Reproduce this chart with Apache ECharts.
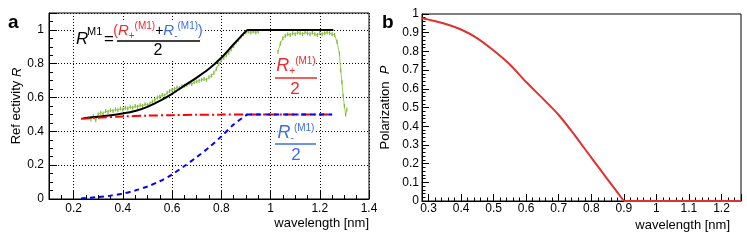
<!DOCTYPE html>
<html><head><meta charset="utf-8">
<script src="https://cdn.jsdelivr.net/npm/echarts@6/dist/echarts.min.js"></script>
<style>html,body{margin:0;padding:0;background:#fff}#c{width:747px;height:245px}</style>
</head><body><div id="c"></div>
<script>
// ---- Panel a data ----
const redX   = [0.23, 0.30, 0.40, 0.50, 0.60, 0.70, 0.80, 0.90, 1.00, 1.10, 1.20, 1.25];
const redY   = [0.475, 0.481, 0.488, 0.493, 0.496, 0.498, 0.499, 0.500, 0.500, 0.500, 0.500, 0.500];
const blueX  = [0.23, 0.30, 0.35, 0.40, 0.45, 0.50, 0.55, 0.60, 0.65, 0.70, 0.75, 0.80, 0.85, 0.905];
const blueY  = [0.003, 0.012, 0.020, 0.032, 0.050, 0.074, 0.105, 0.145, 0.195, 0.248, 0.305, 0.370, 0.440, 0.500];
const blueFlatX = [0.905, 1.25];
const blueFlatY = [0.500, 0.500];
const blackX = [0.24, 0.30, 0.35, 0.40, 0.45, 0.50, 0.55, 0.60, 0.65, 0.70, 0.75, 0.80, 0.85, 0.905];
const blackY = [0.478, 0.487, 0.495, 0.505, 0.520, 0.545, 0.580, 0.622, 0.670, 0.718, 0.770, 0.835, 0.915, 1.000];
const blackFlatX = [0.905, 1.255];
const blackFlatY = [1.000, 1.000];
const greenX1 = [0.27,0.28,0.29,0.30,0.31,0.32,0.33,0.34,0.35,0.36,0.37,0.38,0.39,0.40,0.41,0.42,0.43,0.44,0.45,0.46,0.47,0.48,0.49,0.50,0.51,0.52,0.53,0.54,0.55,0.56,0.57,0.58,0.59,0.60,0.61,0.62,0.63,0.64,0.65,0.66,0.67,0.68,0.69,0.70,0.71,0.72,0.73,0.74,0.75,0.76,0.77,0.78,0.79,0.80,0.81,0.82,0.83,0.84,0.85,0.86,0.87,0.88,0.89,0.90,0.91,0.92,0.93,0.94,0.95];
const greenY1 = [0.470,0.490,0.465,0.500,0.510,0.505,0.520,0.515,0.525,0.520,0.530,0.525,0.535,0.530,0.540,0.535,0.545,0.540,0.550,0.545,0.555,0.550,0.560,0.555,0.565,0.575,0.585,0.600,0.605,0.615,0.612,0.628,0.638,0.645,0.650,0.660,0.655,0.665,0.670,0.675,0.685,0.680,0.690,0.695,0.700,0.705,0.710,0.705,0.720,0.730,0.745,0.770,0.800,0.820,0.835,0.850,0.865,0.885,0.905,0.925,0.940,0.960,0.975,0.985,0.990,0.985,0.990,0.985,0.990];
const greenX2 = [1.03,1.04,1.05,1.06,1.07,1.08,1.09,1.10,1.11,1.12,1.13,1.14,1.15,1.16,1.17,1.18,1.19,1.20,1.21,1.22,1.23,1.24,1.25,1.26,1.27,1.28,1.285,1.29,1.295,1.30,1.305,1.31];
const greenY2 = [0.870,0.920,0.950,0.965,0.975,0.970,0.980,0.975,0.985,0.980,0.975,0.985,0.980,0.975,0.985,0.975,0.970,0.980,0.975,0.980,0.985,0.980,0.975,0.970,0.930,0.860,0.760,0.690,0.610,0.550,0.500,0.530];
// ---- Panel b data ----
const polX = [0.28, 0.30, 0.35, 0.40, 0.45, 0.50, 0.55, 0.60, 0.65, 0.70, 0.75, 0.80, 0.85, 0.90];
const polY = [0.977, 0.970, 0.948, 0.917, 0.870, 0.805, 0.730, 0.636, 0.550, 0.460, 0.350, 0.232, 0.116, 0.000];
const polFlatX = [0.90, 1.26];
const polFlatY = [0.000, 0.000];

const zip = (xs, ys) => xs.map((x, i) => [x, ys[i]]);
const FF = 'Liberation Sans, Arial, Helvetica, sans-serif';
const RED = '#ff0000', BLUE = '#0000ff', TRED = '#ee2a2a', TBLUE = '#3c6ee6', PRED = '#e03131';

const axisCommon = {
  axisLine: {lineStyle: {color: '#000', width: 1}},
  axisLabel: {color: '#000', fontSize: 12, fontFamily: FF},
};

const chart = echarts.init(document.getElementById('c'), null, {renderer: 'canvas'});
const txt = (x, y, text, font, fill, align) => ({
  type: 'text', z: 100,
  style: {x, y, text, font, fill: fill || '#000', align: align || 'left', verticalAlign: 'middle', textAlign: align || 'left', textVerticalAlign: 'middle'}
});
const richTxt = (x, y, text, rich, align) => ({
  type: 'text', z: 100,
  style: {x, y, text, rich, align: align || 'center', verticalAlign: 'middle', textAlign: align || 'center', textVerticalAlign: 'middle', backgroundColor: '#fff'}
});
const bar = (x1, x2, y, color) => ({
  type: 'line', z: 100, shape: {x1, y1: y, x2, y2: y}, style: {stroke: color, lineWidth: 1.5}
});
const R = (c, sz) => ({fontSize: sz, fontStyle: 'italic', fontFamily: FF, fill: c, color: c, lineHeight: 20});
const N = (c, sz) => ({fontSize: sz, fontFamily: FF, fill: c, color: c, lineHeight: 20});
const SUP = (c) => ({fontSize: 10, fontFamily: FF, fill: c, color: c, lineHeight: 20, verticalAlign: 'top'});
const SUB = (c) => ({fontSize: 10, fontFamily: FF, fill: c, color: c, lineHeight: 20, verticalAlign: 'bottom'});
const lineSeries = (xi, xs, ys, color, type, z, smooth) => ({
  type: 'line', xAxisIndex: xi, yAxisIndex: xi, data: zip(xs, ys), symbol: 'none', smooth: smooth ? 0.3 : false,
  clip: false, lineStyle: {color, width: 2, type: type || 'solid'}, z
});

chart.setOption({
  animation: false,
  backgroundColor: '#fff',
  grid: [
    {left: 49, right: 378, top: 13, bottom: 46, show: true, borderColor: '#000', borderWidth: 1, backgroundColor: 'transparent'},
    {left: 422, right: 6, top: 14, bottom: 44, show: true, borderColor: '#000', borderWidth: 1, backgroundColor: 'transparent'}
  ],
  xAxis: [
    Object.assign({}, axisCommon, {
      gridIndex: 0, type: 'value', min: 0.1, max: 1.4, splitNumber: 6,
      axisTick: {inside: true, length: 8, lineStyle: {color: '#000'}},
      minorTick: {show: true, splitNumber: 4, length: 4, lineStyle: {color: '#000'}},
      axisLabel: {color: '#000', fontSize: 12, fontFamily: FF, margin: 4, showMinLabel: false},
      splitLine: {show: true, lineStyle: {color: '#000', width: 1, type: [1, 2]}},
      name: 'wavelength [nm]', nameLocation: 'end', nameGap: 0,
      nameTextStyle: {color: '#000', fontSize: 13, fontFamily: FF, align: 'right', verticalAlign: 'top', padding: [18, 0, 0, 0]}
    }),
    Object.assign({}, axisCommon, {
      gridIndex: 1, type: 'value', min: 0.28, max: 1.26, splitNumber: 10,
      axisTick: {inside: true, length: 7, lineStyle: {color: '#000'}},
      minorTick: {show: true, splitNumber: 5, length: 3.5, lineStyle: {color: '#000'}},
      axisLabel: {color: '#000', fontSize: 12, fontFamily: FF, margin: 2, showMinLabel: false, showMaxLabel: false},
      splitLine: {show: false},
      name: 'wavelength [nm]', nameLocation: 'end', nameGap: 0,
      nameTextStyle: {color: '#000', fontSize: 13, fontFamily: FF, align: 'right', verticalAlign: 'top', padding: [18, 11, 0, 0]}
    })
  ],
  yAxis: [
    Object.assign({}, axisCommon, {
      gridIndex: 0, type: 'value', min: 0, max: 1.1, interval: 0.2,
      axisTick: {inside: true, length: 8, lineStyle: {color: '#000'}},
      minorTick: {show: true, splitNumber: 4, length: 4, lineStyle: {color: '#000'}},
      axisLabel: {color: '#000', fontSize: 12, fontFamily: FF, margin: 5, showMaxLabel: false},
      splitLine: {show: true, lineStyle: {color: '#000', width: 1, type: [1, 2]}},
      name: 'Ref ectivity {i|R}', nameLocation: 'middle', nameGap: 25, nameRotate: 90,
      nameTextStyle: {color: '#000', fontSize: 13, fontFamily: FF, rich: {i: {fontStyle: 'italic', fontSize: 13, fontFamily: FF, color: '#000'}}}
    }),
    Object.assign({}, axisCommon, {
      gridIndex: 1, type: 'value', min: 0, max: 1, interval: 0.1,
      axisTick: {inside: true, length: 7, lineStyle: {color: '#000'}},
      minorTick: {show: true, splitNumber: 5, length: 3.5, lineStyle: {color: '#000'}},
      axisLabel: {color: '#000', fontSize: 12, fontFamily: FF, margin: 3},
      splitLine: {show: false},
      name: 'Polarization  {i|P}', nameLocation: 'middle', nameGap: 30, nameRotate: 90,
      nameTextStyle: {color: '#000', fontSize: 13, fontFamily: FF, rich: {i: {fontStyle: 'italic', fontSize: 13, fontFamily: FF, color: '#000'}}}
    })
  ],
  series: [
    {type: 'line', xAxisIndex: 0, yAxisIndex: 0, data: zip(greenX1, greenY1), symbol: 'rect', symbolSize: [1.2, 4], showSymbol: true,
     itemStyle: {color: '#7fba3a'}, lineStyle: {color: '#9ccf5a', width: 1}, z: 2},
    {type: 'line', xAxisIndex: 0, yAxisIndex: 0, data: zip(greenX2, greenY2), symbol: 'rect', symbolSize: [1.2, 4], showSymbol: true,
     itemStyle: {color: '#7fba3a'}, lineStyle: {color: '#9ccf5a', width: 1}, z: 2},
    lineSeries(0, blackX, blackY, '#000', 'solid', 3, true),
    lineSeries(0, blackFlatX, blackFlatY, '#000', 'solid', 3, false),
    lineSeries(0, redX, redY, RED, [9, 3, 2, 3], 4, true),
    lineSeries(0, blueX, blueY, BLUE, [5, 4], 5, true),
    lineSeries(0, blueFlatX, blueFlatY, BLUE, [5, 4], 5, false),
    lineSeries(1, polX, polY, PRED, 'solid', 4, true),
    lineSeries(1, polFlatX, polFlatY, PRED, 'solid', 4, false)
  ],
  graphic: [
    txt(8, 23, 'a', 'bold 19px ' + FF, '#000'),
    txt(382, 23, 'b', 'bold 19px ' + FF, '#000'),
    // R^M1 = (R+ + R-)/2
    {type: 'rect', z: 99, shape: {x: 75, y: 22, width: 127, height: 38}, style: {fill: '#fff'}},
    txt(76, 39, 'R', 'italic 17px ' + FF, '#000'),
    txt(87, 32, 'M1', '11px ' + FF, '#000'),
    txt(104, 39, '=', '17px ' + FF, '#000'),
    richTxt(158, 31, '{p|(}{r|R}{rs|+}{ru|(M1)}{k|+}{b|R}{bs|-}{bu|(M1)}{q|)}', {
      p: N(TRED, 14), r: R(TRED, 15), rs: SUB(TRED), ru: SUP(TRED), k: N('#000', 14),
      b: R(TBLUE, 15), bs: SUB(TBLUE), bu: SUP(TBLUE), q: N(TBLUE, 14)
    }),
    bar(117, 200, 41, '#000'),
    txt(158, 51, '2', '16px ' + FF, '#000', 'center'),
    // R+/2
    richTxt(296, 66, '{r|R}{rs|+}{ru|(M1)}', {r: R(TRED, 18), rs: SUB(TRED), ru: SUP(TRED)}),
    bar(275, 317, 78, TRED),
    txt(295, 89, '2', '17px ' + FF, TRED, 'center'),
    // R-/2
    richTxt(296, 133, '{r|R}{rs|-}{ru|(M1)}', {r: R(TBLUE, 18), rs: SUB(TBLUE), ru: SUP(TBLUE)}),
    bar(275, 316, 144, TBLUE),
    txt(296, 155, '2', '17px ' + FF, TBLUE, 'center')
  ]
});
</script></body></html>
